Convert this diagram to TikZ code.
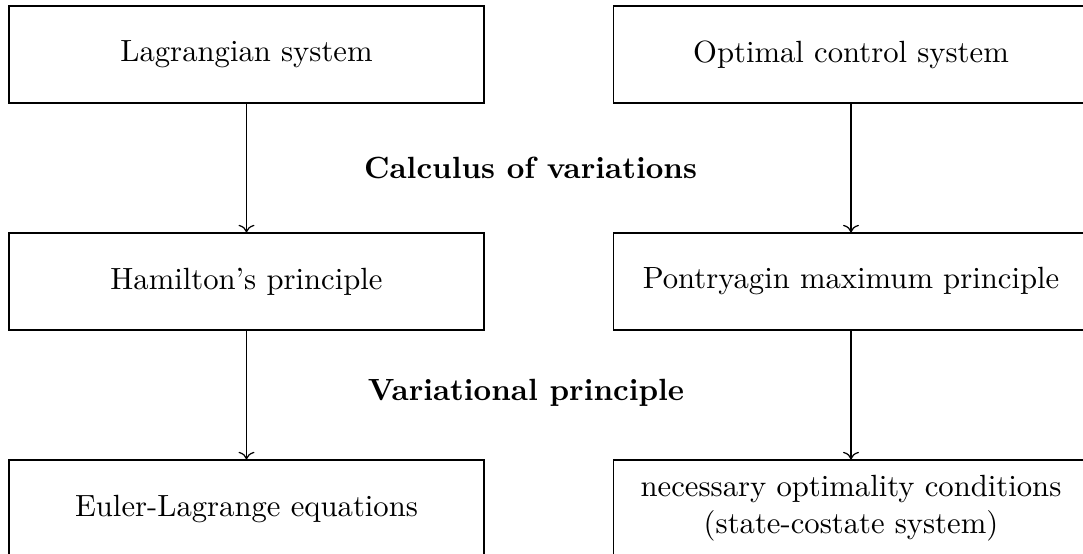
\documentclass[tikz,border=0pt]{standalone}
\usetikzlibrary{arrows.meta}
\begin{document}
\begin{tikzpicture}[x=0.326pt,y=-0.326pt,
  box/.style={draw,line width=0.4pt,minimum width=154.85pt,minimum height=31.6pt,inner sep=0pt,align=center},
  lbl/.style={font=\bfseries,inner sep=0pt},
  arr/.style={->,line width=0.4pt}]
\useasboundingbox (0,0) rectangle (1083,553);
\clip (0,0) rectangle (1083,553);
\node[box] (L1) at (246.5,54.5) {Lagrangian system};
\node[box] (R1) at (851,54.5) {Optimal control system};
\node[box] (L2) at (246.5,281.5) {Hamilton's principle};
\node[box] (R2) at (851,281.5) {Pontryagin maximum principle};
\node[box] (L3) at (246.5,508.5) {Euler-Lagrange equations};
\node[box] (R3) at (851,508.5) {necessary optimality conditions\\(state-costate system)};
\node[lbl] (cv) at (530.5,168) {Calculus of variations};
\node[lbl] (vp) at (526,393) {Variational principle};
\draw[arr] (L1) -- (L2);
\draw[arr] (R1) -- (R2);
\draw[arr] (L2) -- (L3);
\draw[arr] (R2) -- (R3);
\end{tikzpicture}
\end{document}
